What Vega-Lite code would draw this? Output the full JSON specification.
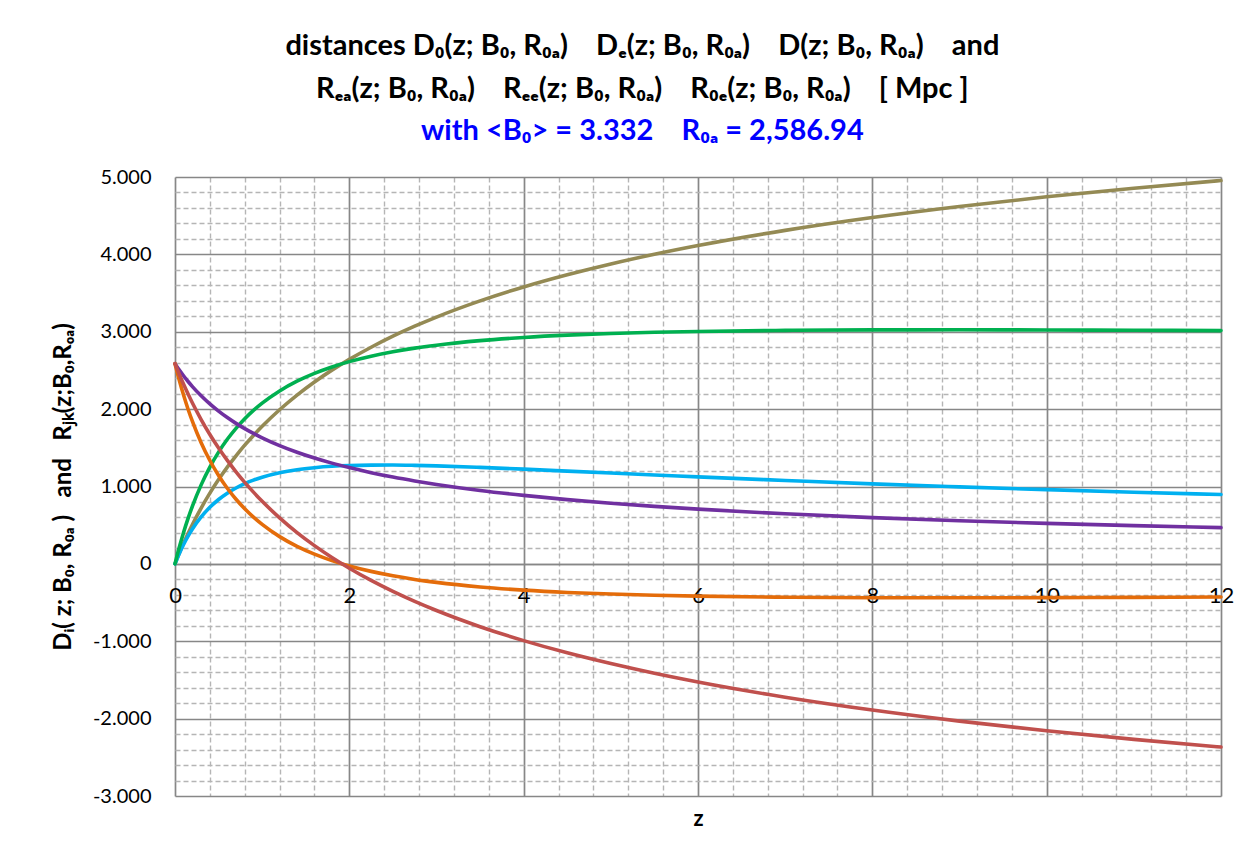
{
  "$schema": "https://vega.github.io/schema/vega-lite/v6.json",
  "autosize": "none",
  "width": 1046,
  "height": 619,
  "padding": {"left": 175, "top": 177, "right": 21, "bottom": 67},
  "background": "white",
  "config": {
    "view": {"stroke": null},
    "font": "Lato"
  },
  "title": {
    "text": ["distances D₀(z; B₀, R₀ₐ)\u00a0\u00a0\u00a0 Dₑ(z; B₀, R₀ₐ)\u00a0\u00a0\u00a0 D(z; B₀, R₀ₐ)\u00a0\u00a0\u00a0 and", "Rₑₐ(z; B₀, R₀ₐ)\u00a0\u00a0\u00a0 Rₑₑ(z; B₀, R₀ₐ)\u00a0\u00a0\u00a0 R₀ₑ(z; B₀, R₀ₐ)\u00a0\u00a0\u00a0 [ Mpc ]"],
    "subtitle": "with <B₀> = 3.332\u00a0\u00a0\u00a0 R₀ₐ = 2,586.94",
    "anchor": "middle",
    "frame": "bounds",
    "font": "Lato",
    "fontSize": 29,
    "fontWeight": "bold",
    "color": "#000000",
    "lineHeight": 43,
    "subtitleFont": "Lato",
    "subtitleFontSize": 29,
    "subtitleFontWeight": "bold",
    "subtitleColor": "#0000FF",
    "subtitlePadding": 13,
    "offset": 21
  },
  "data": {
    "values": [
      {"z": 0, "D0": 0, "De": 0, "D": 0, "Rea": 2587, "Ree": 2587, "R0e": 2587},
      {"z": 0.05, "D0": 139, "De": 135, "D": 217, "Rea": 2504, "Ree": 2370, "R0e": 2448},
      {"z": 0.1, "D0": 270, "De": 253, "D": 412, "Rea": 2428, "Ree": 2175, "R0e": 2317},
      {"z": 0.15, "D0": 392, "De": 358, "D": 588, "Rea": 2357, "Ree": 1999, "R0e": 2195},
      {"z": 0.2, "D0": 508, "De": 450, "D": 746, "Rea": 2291, "Ree": 1841, "R0e": 2079},
      {"z": 0.3, "D0": 722, "De": 606, "D": 1021, "Rea": 2172, "Ree": 1566, "R0e": 1865},
      {"z": 0.4, "D0": 915, "De": 731, "D": 1251, "Rea": 2067, "Ree": 1336, "R0e": 1672},
      {"z": 0.5, "D0": 1090, "De": 832, "D": 1444, "Rea": 1974, "Ree": 1143, "R0e": 1497},
      {"z": 0.6, "D0": 1250, "De": 914, "D": 1610, "Rea": 1891, "Ree": 977, "R0e": 1337},
      {"z": 0.7, "D0": 1397, "De": 981, "D": 1752, "Rea": 1816, "Ree": 835, "R0e": 1190},
      {"z": 0.8, "D0": 1534, "De": 1037, "D": 1875, "Rea": 1748, "Ree": 712, "R0e": 1053},
      {"z": 0.9, "D0": 1660, "De": 1082, "D": 1983, "Rea": 1686, "Ree": 604, "R0e": 927},
      {"z": 1.0, "D0": 1778, "De": 1120, "D": 2077, "Rea": 1630, "Ree": 510, "R0e": 809},
      {"z": 1.2, "D0": 1992, "De": 1178, "D": 2235, "Rea": 1529, "Ree": 352, "R0e": 595},
      {"z": 1.4, "D0": 2182, "De": 1217, "D": 2361, "Rea": 1443, "Ree": 226, "R0e": 405},
      {"z": 1.6, "D0": 2351, "De": 1243, "D": 2462, "Rea": 1368, "Ree": 125, "R0e": 236},
      {"z": 1.8, "D0": 2504, "De": 1261, "D": 2545, "Rea": 1302, "Ree": 42, "R0e": 83},
      {"z": 2.0, "D0": 2643, "De": 1271, "D": 2614, "Rea": 1244, "Ree": -27, "R0e": -56},
      {"z": 2.25, "D0": 2800, "De": 1276, "D": 2684, "Rea": 1179, "Ree": -97, "R0e": -214},
      {"z": 2.5, "D0": 2943, "De": 1277, "D": 2741, "Rea": 1122, "Ree": -154, "R0e": -356},
      {"z": 2.75, "D0": 3072, "De": 1273, "D": 2788, "Rea": 1072, "Ree": -201, "R0e": -485},
      {"z": 3, "D0": 3190, "De": 1266, "D": 2826, "Rea": 1027, "Ree": -239, "R0e": -603},
      {"z": 3.5, "D0": 3399, "De": 1247, "D": 2885, "Rea": 949, "Ree": -298, "R0e": -812},
      {"z": 4, "D0": 3579, "De": 1224, "D": 2926, "Rea": 885, "Ree": -339, "R0e": -992},
      {"z": 4.5, "D0": 3736, "De": 1199, "D": 2956, "Rea": 830, "Ree": -369, "R0e": -1150},
      {"z": 5, "D0": 3876, "De": 1174, "D": 2977, "Rea": 783, "Ree": -390, "R0e": -1289},
      {"z": 5.5, "D0": 4001, "De": 1149, "D": 2993, "Rea": 743, "Ree": -406, "R0e": -1414},
      {"z": 6, "D0": 4114, "De": 1124, "D": 3004, "Rea": 707, "Ree": -417, "R0e": -1527},
      {"z": 7, "D0": 4310, "De": 1078, "D": 3018, "Rea": 647, "Ree": -431, "R0e": -1723},
      {"z": 8, "D0": 4476, "De": 1034, "D": 3024, "Rea": 598, "Ree": -437, "R0e": -1889},
      {"z": 9, "D0": 4619, "De": 995, "D": 3025, "Rea": 557, "Ree": -438, "R0e": -2032},
      {"z": 10, "D0": 4744, "De": 959, "D": 3023, "Rea": 523, "Ree": -436, "R0e": -2157},
      {"z": 11, "D0": 4855, "De": 926, "D": 3020, "Rea": 494, "Ree": -433, "R0e": -2268},
      {"z": 12, "D0": 4954, "De": 896, "D": 3015, "Rea": 468, "Ree": -428, "R0e": -2367}
    ]
  },
  "transform": [
    {"fold": ["D0", "De", "D", "Rea", "Ree", "R0e"], "as": ["series", "value"]}
  ],
  "layer": [
    {
      "mark": {"type": "line", "opacity": 0},
      "encoding": {
        "x": {
          "field": "z", "type": "quantitative",
          "scale": {"domain": [0, 12], "nice": false, "zero": false},
          "axis": {
            "orient": "bottom",
            "values": [0.4, 0.8, 1.2, 1.6, 2.4, 2.8, 3.2, 3.6, 4.4, 4.8, 5.2, 5.6, 6.4, 6.8, 7.2, 7.6, 8.4, 8.8, 9.2, 9.6, 10.4, 10.8, 11.2, 11.6],
            "grid": true, "gridColor": "#B5B5B5", "gridDash": [5, 3], "gridWidth": 1.4,
            "labels": false, "ticks": false, "domain": false, "title": null
          }
        },
        "y": {
          "field": "value", "type": "quantitative",
          "scale": {"domain": [-3000, 5000], "nice": false, "zero": false},
          "axis": {
            "orient": "left",
            "values": [-2800, -2600, -2400, -2200, -1800, -1600, -1400, -1200, -800, -600, -400, -200, 200, 400, 600, 800, 1200, 1400, 1600, 1800, 2200, 2400, 2600, 2800, 3200, 3400, 3600, 3800, 4200, 4400, 4600, 4800],
            "grid": true, "gridColor": "#B5B5B5", "gridDash": [5, 3], "gridWidth": 1.4,
            "labels": false, "ticks": false, "domain": false, "title": null
          }
        },
        "detail": {"field": "series"}
      }
    },
    {
      "mark": {"type": "line", "strokeWidth": 3.6, "interpolate": "monotone", "strokeCap": "round"},
      "encoding": {
        "x": {
          "field": "z", "type": "quantitative",
          "axis": {
            "orient": "bottom",
            "values": [0, 2, 4, 6, 8, 10, 12],
            "grid": true, "gridColor": "#878787", "gridWidth": 1.7,
            "offset": -232,
            "ticks": false,
            "domain": true, "domainColor": "#878787", "domainWidth": 1.7,
            "labelFont": "Lato", "labelFontSize": 22, "labelColor": "#000000",
            "labelPadding": 21, "labelFlush": false,
            "title": "z",
            "titleFont": "Lato", "titleFontSize": 22, "titleFontWeight": "bold", "titleColor": "#000000",
            "titleY": 254, "titleBaseline": "middle"
          }
        },
        "y": {
          "field": "value", "type": "quantitative",
          "axis": {
            "orient": "left",
            "values": [-3000, -2000, -1000, 0, 1000, 2000, 3000, 4000, 5000],
            "grid": true, "gridColor": "#878787", "gridWidth": 1.7,
            "ticks": false, "domain": false,
            "labelFont": "Lato", "labelFontSize": 20, "labelColor": "#000000",
            "labelPadding": 24,
            "labelExpr": "datum.value == 0 ? '0' : (datum.value < 0 ? '-' : '') + toString(abs(datum.value) / 1000) + '.000'",
            "title": "Dᵢ( z; B₀, R₀ₐ )\u00a0\u00a0 and\u00a0\u00a0 Rⱼₖ(z;B₀,Rₒₐ)",
            "titleFont": "Lato", "titleFontSize": 24, "titleFontWeight": "bold", "titleColor": "#000000",
            "titleAngle": -90, "titleX": -112, "titleY": 309.5,
            "titleAlign": "center", "titleBaseline": "middle"
          }
        },
        "color": {
          "field": "series", "type": "nominal",
          "scale": {
            "domain": ["D0", "De", "D", "Rea", "Ree", "R0e"],
            "range": ["#948A54", "#00B0F0", "#00B050", "#7030A0", "#E46C0A", "#C0504D"]
          },
          "legend": null
        },
        "order": {"field": "z"}
      }
    }
  ],
  "resolve": {"axis": {"x": "independent", "y": "independent"}}
}
